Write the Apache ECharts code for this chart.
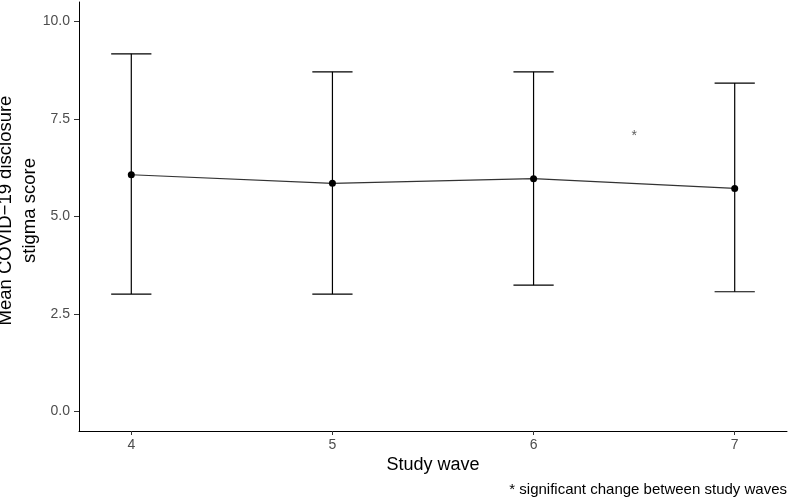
<!DOCTYPE html>
<html>
<head>
<meta charset="utf-8">
<script src="https://cdn.jsdelivr.net/npm/echarts@6/dist/echarts.min.js"></script>
<style>html,body{margin:0;padding:0;background:#fff;}#c{width:789px;height:499px;}</style>
</head>
<body>
<div id="c"></div>
<script>
const waves = [4, 5, 6, 7];
const means = [6.07, 5.85, 5.97, 5.72];
const lower = [3.01, 3.01, 3.24, 3.07];
const upper = [9.17, 8.71, 8.71, 8.42];
const yTicks = [0, 2.5, 5, 7.5, 10];
const xTicks = [4, 5, 6, 7];
const sigMarks = [[6.5, 7.06]];
const sigLabel = '*';
const yTitle = 'Mean COVID\u221219 disclosure\nstigma score';
const xTitle = 'Study wave';
const footnote = '* significant change between study waves';

const font = 'Liberation Sans, Arial, sans-serif';
const chart = echarts.init(document.getElementById('c'), null, {renderer: 'canvas'});

const errData = waves.map((w, i) => [w, lower[i], upper[i]]);

chart.setOption({
  animation: false,
  backgroundColor: '#fff',
  textStyle: {fontFamily: font},
  grid: {left: 79, right: 2, top: 2, bottom: 68, containLabel: false, outerBoundsMode: 'none'},
  title: {
    text: footnote, right: 2, bottom: 2, padding: 0,
    textStyle: {fontFamily: font, fontSize: 15, fontWeight: 'normal', color: '#000'}
  },
  xAxis: {
    type: 'value', min: 3.74, max: 7.26,
    name: xTitle, nameLocation: 'middle', nameGap: 25, nameMoveOverlap: false,
    nameTextStyle: {fontFamily: font, fontSize: 18, color: '#000'},
    axisLine: {show: true, onZero: false, lineStyle: {color: '#000', width: 1}},
    axisTick: {show: true, length: 4, customValues: xTicks, lineStyle: {color: '#333'}},
    axisLabel: {customValues: xTicks, color: '#4d4d4d', fontSize: 14, margin: 7, fontFamily: font},
    splitLine: {show: false}
  },
  yAxis: {
    type: 'value', min: -0.5, max: 10.5,
    name: yTitle, nameLocation: 'middle', nameGap: 37, nameRotate: 90, nameMoveOverlap: false,
    nameTextStyle: {fontFamily: font, fontSize: 18.5, lineHeight: 24, color: '#000', align: 'center',
      padding: [0, 0, 0, 12]},
    axisLine: {show: true, onZero: false, lineStyle: {color: '#000', width: 1}},
    axisTick: {show: true, length: 5, customValues: yTicks, lineStyle: {color: '#333'}},
    axisLabel: {customValues: yTicks, color: '#4d4d4d', fontSize: 14, margin: 9, fontFamily: font,
      formatter: v => v.toFixed(1)},
    splitLine: {show: false}
  },
  series: [
    {
      type: 'custom',
      data: errData,
      encode: {x: 0, y: [1, 2]},
      renderItem: function (params, api) {
        const x = api.value(0);
        const lo = api.coord([x, api.value(1)]);
        const hi = api.coord([x, api.value(2)]);
        const l = api.coord([x - 0.1, api.value(1)]);
        const r = api.coord([x + 0.1, api.value(1)]);
        const hw = (r[0] - l[0]) / 2;
        const style = {stroke: '#000', lineWidth: 1.2};
        return {
          type: 'group',
          children: [
            {type: 'line', shape: {x1: lo[0], y1: lo[1], x2: hi[0], y2: hi[1]}, style},
            {type: 'line', shape: {x1: lo[0] - hw, y1: lo[1], x2: lo[0] + hw, y2: lo[1]}, style},
            {type: 'line', shape: {x1: hi[0] - hw, y1: hi[1], x2: hi[0] + hw, y2: hi[1]}, style}
          ]
        };
      },
      z: 2
    },
    {
      type: 'line',
      data: waves.map((w, i) => [w, means[i]]),
      symbol: 'circle', symbolSize: 7,
      lineStyle: {color: '#333', width: 1.2},
      itemStyle: {color: '#000'},
      z: 3
    },
    {
      type: 'scatter',
      data: sigMarks,
      symbolSize: 0,
      label: {show: true, formatter: sigLabel, position: 'inside', color: '#333', fontSize: 14, fontFamily: font},
      z: 4
    }
  ]
});
</script>
</body>
</html>
